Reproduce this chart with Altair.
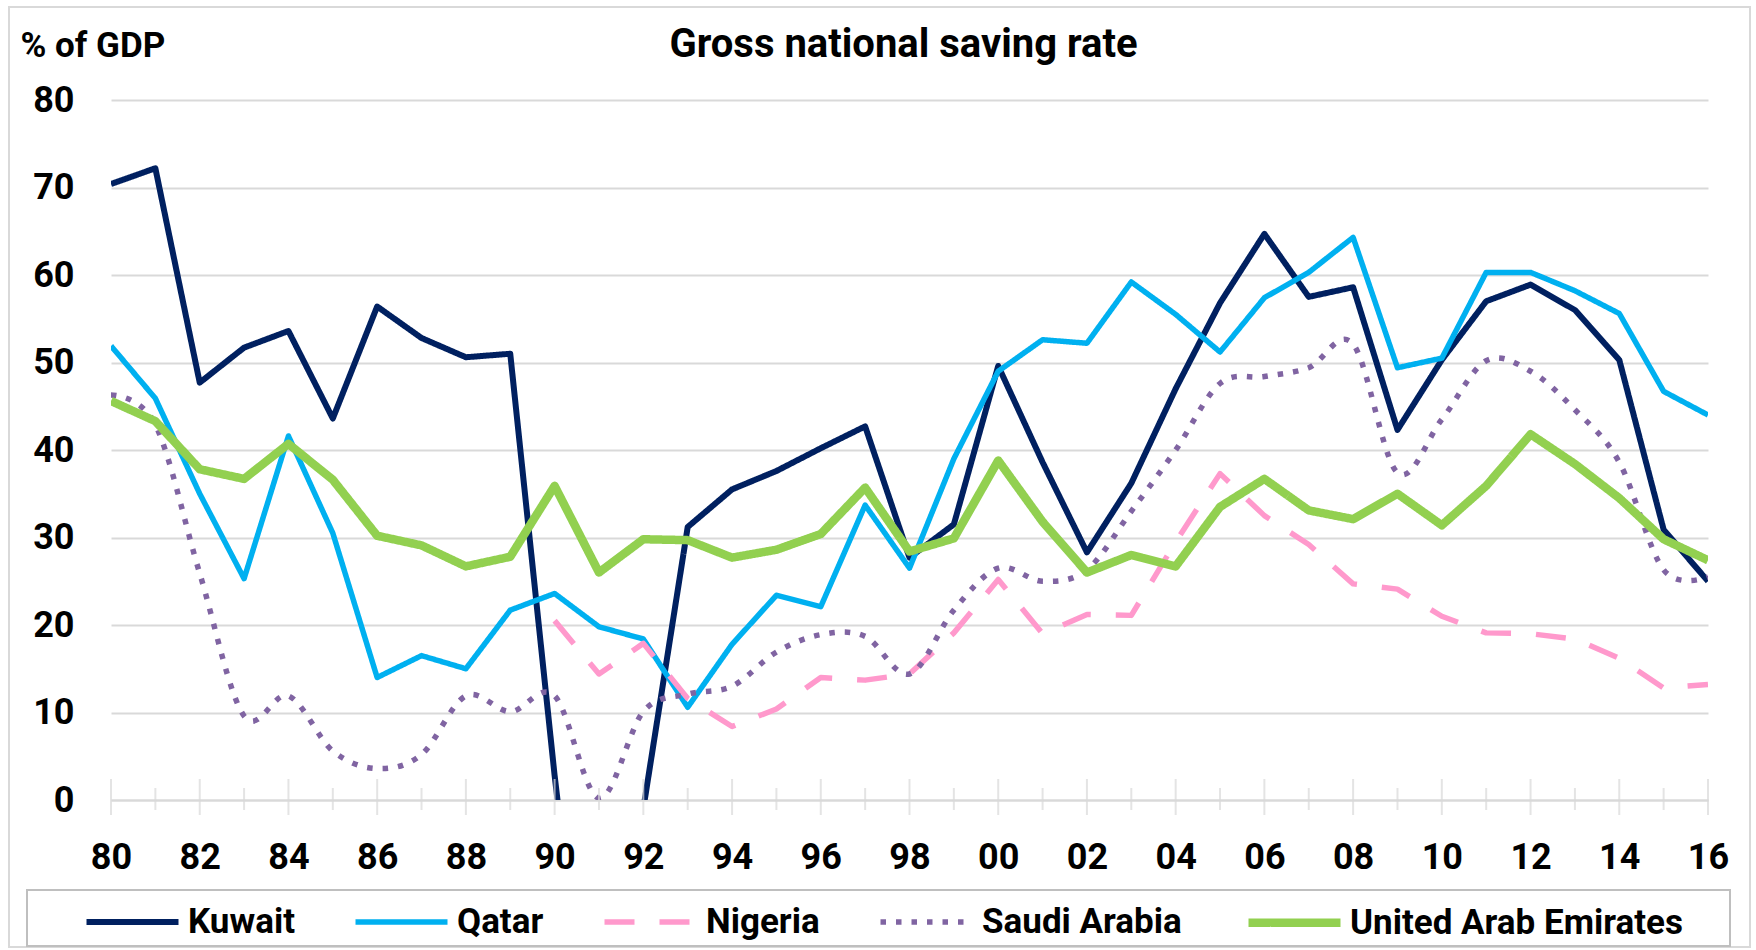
import altair as alt
import pandas as pd

years = list(range(1980, 2017))
countries = ["Kuwait", "Qatar", "Nigeria", "Saudi Arabia", "United Arab Emirates"]
colors = ["#002060", "#00B0F0", "#FF99CC", "#8064A2", "#92D050"]
dashes = [[1, 0], [1, 0], [30, 25], [5.5, 10], [1, 0]]
widths = [6, 5.5, 5.5, 5.5, 8.5]

kuwait = [70.4, 72.2, 47.7, 51.7, 53.6, 43.6, 56.4, 52.8, 50.6, 51.0,
          2.8, -40.0, -1.0, 31.2, 35.5, 37.6, 40.2, 42.7, 27.7, 31.5,
          49.6, 38.6, 28.3, 36.2, 47.0, 56.8, 64.7, 57.5, 58.6, 42.3,
          50.3, 57.0, 58.9, 56.0, 50.3, 30.9, 25.0]
qatar = [51.9, 45.9, 35.0, 25.3, 41.6, 30.5, 14.0, 16.5, 15.0, 21.7,
         23.6, 19.8, 18.4, 10.6, 17.8, 23.4, 22.1, 33.7, 26.5, 39.0,
         49.0, 52.6, 52.2, 59.2, 55.5, 51.2, 57.4, 60.3, 64.3, 49.4,
         50.5, 60.3, 60.3, 58.2, 55.6, 46.7, 44.0]
nigeria = [None, None, None, None, None, None, None, None, None, None,
           20.5, 14.4, 17.9, 11.6, 8.4, 10.4, 14.0, 13.7, 14.4, 19.1,
           25.2, 19.0, 21.2, 21.1, 29.5, 37.3, 32.5, 29.2, 24.7, 24.1,
           21.0, 19.1, 19.0, 18.4, 16.2, 12.8, 13.2]
saudi = [46.3, 42.9, 25.9, 9.6, 11.9, 5.6, 3.6, 5.2, 11.9, 10.1,
         11.9, 0.2, 10.1, 12.1, 13.0, 16.9, 18.9, 18.7, 14.4, 21.7,
         26.5, 25.0, 26.3, 33.0, 40.0, 47.6, 48.4, 49.4, 52.1, 37.4,
         43.5, 50.2, 49.0, 44.6, 38.6, 26.3, 25.5]
uae = [45.6, 43.3, 37.8, 36.7, 40.7, 36.6, 30.2, 29.1, 26.7, 27.8,
       35.9, 26.0, 29.8, 29.7, 27.7, 28.6, 30.4, 35.7, 28.4, 29.9,
       38.8, 31.8, 26.0, 28.0, 26.7, 33.5, 36.7, 33.1, 32.1, 35.0,
       31.4, 35.9, 41.8, 38.4, 34.5, 29.8, 27.4]

series = {"Kuwait": kuwait, "Qatar": qatar, "Nigeria": nigeria,
          "Saudi Arabia": saudi, "United Arab Emirates": uae}

rows = []
for c in countries:
    for yr, v in zip(years, series[c]):
        if v is not None:
            rows.append({"year": yr, "value": v, "country": c})
df = pd.DataFrame(rows)
ticks_df = pd.DataFrame({"year": years})
one = pd.DataFrame({"a": [0]})

FONT = "Roboto, Liberation Sans, sans-serif"
GRID = "#D9D9D9"

legend = alt.Legend(
    title=None, orient="none", legendX=-29, legendY=772,
    direction="horizontal", columns=5, columnPadding=49,
    symbolType="stroke", symbolSize=8464, labelFont=FONT, labelFontSize=35,
    labelFontWeight="bold", labelColor="black", labelOffset=5,
    labelLimit=600, padding=0,
)

x_enc = alt.X(
    "year:Q",
    scale=alt.Scale(domain=[1980, 2016], nice=False, zero=False),
    axis=alt.Axis(
        title=None, values=list(range(1980, 2017, 2)),
        labelExpr="format(datum.value % 100, '02d')",
        grid=False, ticks=False, tickSize=0, domain=True,
        domainColor=GRID, domainWidth=2,
        labelFont=FONT, labelFontSize=36, labelFontWeight="bold",
        labelColor="black", labelPadding=40, labelFlush=False,
        labelOverlap=False,
    ),
)
y_enc = alt.Y(
    "value:Q",
    scale=alt.Scale(domain=[0, 80], nice=False),
    axis=alt.Axis(
        values=list(range(0, 81, 10)), title="% of GDP", titleAngle=0,
        titleX=-91, titleY=-44, titleAlign="left", titleBaseline="alphabetic",
        titleFont=FONT, titleFontSize=35, titleFontWeight="bold",
        titleColor="black",
        labelFont=FONT, labelFontSize=36, labelFontWeight="bold",
        labelColor="black", labelPadding=37,
        domain=False, ticks=False, tickSize=0,
        grid=True, gridColor=GRID, gridWidth=2,
    ),
)

base = alt.Chart(df).encode(
    x=x_enc,
    y=y_enc,
    color=alt.Color("country:N", scale=alt.Scale(domain=countries, range=colors), legend=legend),
    strokeDash=alt.StrokeDash("country:N", scale=alt.Scale(domain=countries, range=dashes), legend=legend),
    strokeWidth=alt.StrokeWidth("country:N", scale=alt.Scale(type="ordinal", domain=countries, range=widths), legend=legend),
)

line_layers = []
for c in countries:
    interp = "cardinal" if c == "Saudi Arabia" else "linear"
    line_layers.append(
        base.transform_filter(alt.datum.country == c).mark_line(
            clip=True, strokeJoin="round", interpolate=interp
        )
    )

frame = alt.Chart(one).mark_rect(filled=False, color=GRID, strokeWidth=2).encode(
    x=alt.value(-102), x2=alt.value(1639), y=alt.value(-93), y2=alt.value(847)
)
legend_box = alt.Chart(one).mark_rect(filled=False, color="#BFBFBF", strokeWidth=2).encode(
    x=alt.value(-84), x2=alt.value(1619), y=alt.value(790), y2=alt.value(846)
)

even_ticks = alt.Chart(ticks_df).transform_filter("datum.year % 2 == 0").mark_tick(
    orient="vertical", size=36, thickness=2, color=GRID, yOffset=-3
).encode(x="year:Q", y=alt.datum(0))
odd_ticks = alt.Chart(ticks_df).transform_filter("datum.year % 2 == 1").mark_tick(
    orient="vertical", size=22, thickness=2, color=GRID, yOffset=-1
).encode(x="year:Q", y=alt.datum(0))

chart = alt.layer(*line_layers, frame, legend_box, even_ticks, odd_ticks).properties(
    width=1597,
    height=700,
    title=alt.TitleParams(
        text="Gross national saving rate", font=FONT, fontSize=40,
        fontWeight="bold", color="black", anchor="middle", offset=-59, dx=-6,
        frame="group",
    ),
    autosize=alt.AutoSizeParams(type="none"),
    padding={"left": 111, "top": 100, "right": 48, "bottom": 150},
    background="white",
).configure_view(stroke=None)

chart.save("out.html", embed_options={"renderer": "svg", "actions": False})
